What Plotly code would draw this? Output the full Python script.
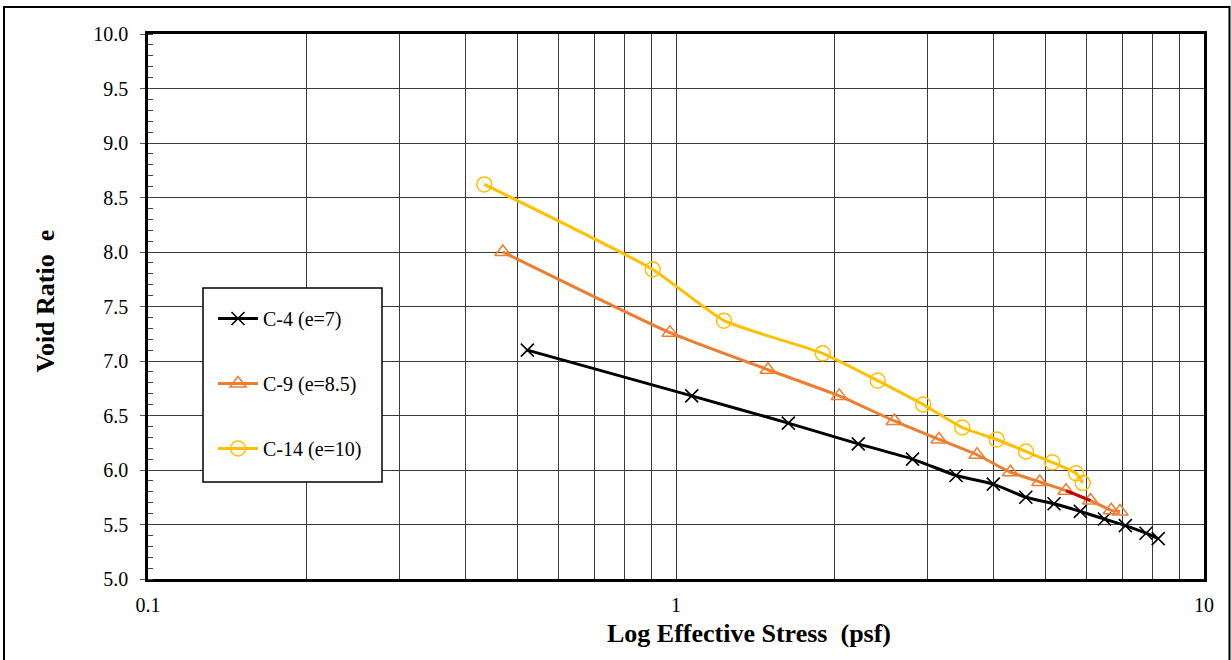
import plotly.graph_objects as go

# ---- data ----
c4_x = [0.523, 1.071, 1.632, 2.214, 2.805, 3.391, 3.990, 4.597, 5.199, 5.832, 6.478, 7.096, 7.767, 8.191]
c4_y = [7.10, 6.68, 6.43, 6.24, 6.10, 5.95, 5.87, 5.75, 5.69, 5.62, 5.55, 5.49, 5.42, 5.37]

c9_x = [0.470, 0.974, 1.494, 2.038, 2.591, 3.148, 3.716, 4.300, 4.887, 5.479, 6.096, 6.672, 6.933]
c9_y = [8.00, 7.26, 6.92, 6.68, 6.45, 6.28, 6.14, 5.98, 5.89, 5.81, 5.72, 5.63, 5.62]

c14_x = [0.4335, 0.9035, 1.233, 1.896, 2.410, 2.940, 3.485, 4.050, 4.601, 5.161, 5.723, 5.893]
c14_y = [8.62, 7.84, 7.37, 7.07, 6.82, 6.60, 6.39, 6.28, 6.17, 6.07, 5.97, 5.88]

red_x = [5.479, 6.096]
red_y = [5.81, 5.72]

x_tickvals = [0.1, 0.2, 0.3, 0.4, 0.5, 0.6, 0.7, 0.8, 0.9,
              1, 2, 3, 4, 5, 6, 7, 8, 9, 10]
x_ticktext = ["0.1", "", "", "", "", "", "", "", "",
              "1", "", "", "", "", "", "", "", "", "10"]
y_tickvals = [5.0, 5.5, 6.0, 6.5, 7.0, 7.5, 8.0, 8.5, 9.0, 9.5, 10.0]
y_ticktext = ["5.0", "5.5", "6.0", "6.5", "7.0", "7.5", "8.0", "8.5", "9.0", "9.5", "10.0"]

names = ["C-4 (e=7)", "C-9 (e=8.5)", "C-14 (e=10)"]

FONT = "Times New Roman, Liberation Serif, serif"
BLACK = "#000000"
ORANGE = "#ED7D31"
YELLOW = "#FFC000"
RED = "#C00000"

W, H = 1231, 660
L, R, T, B = 148, 27, 34, 81
PW, PH = W - L - R, H - T - B


def px(x):
    return (x - L) / PW


def py(y):
    return (H - B - y) / PH


fig = go.Figure()

fig.add_trace(go.Scatter(
    x=c4_x, y=c4_y, name=names[0], mode="lines+markers", legendgroup="a",
    line=dict(color=BLACK, width=3, shape="spline", smoothing=0.5),
    marker=dict(symbol="x-thin", size=13, line=dict(color=BLACK, width=1.6)),
))
fig.add_trace(go.Scatter(
    x=c9_x, y=c9_y, name=names[1], mode="lines+markers", legendgroup="b",
    line=dict(color=ORANGE, width=3, shape="spline", smoothing=0.5),
    marker=dict(symbol="triangle-up-open", size=14, color=ORANGE, line=dict(color=ORANGE, width=1.5)),
))
fig.add_trace(go.Scatter(
    x=red_x, y=red_y, mode="lines", showlegend=False, hoverinfo="skip",
    line=dict(color=RED, width=3),
))
fig.add_trace(go.Scatter(
    x=c14_x, y=c14_y, name=names[2], mode="lines+markers", legendgroup="c",
    line=dict(color=YELLOW, width=3, shape="spline", smoothing=0.5),
    marker=dict(symbol="circle-open", size=15, color=YELLOW, line=dict(color=YELLOW, width=1.5)),
))

fig.update_layout(
    width=W, height=H,
    margin=dict(l=L, r=R, t=T, b=B),
    paper_bgcolor="white", plot_bgcolor="white",
    font=dict(family=FONT, size=20, color="black"),
    showlegend=True,
    legend=dict(
        x=px(213), y=py(299), xanchor="left", yanchor="top",
        bgcolor="rgba(0,0,0,0)", borderwidth=0,
        font=dict(family=FONT, size=20, color="black"),
        tracegroupgap=36, itemwidth=40,
    ),
    xaxis=dict(
        type="log", range=[-1, 1],
        tickvals=x_tickvals, ticktext=x_ticktext,
        showgrid=True, gridcolor="#3a3a3a", gridwidth=1,
        ticks="", ticklabelstandoff=6,
        showline=True, linecolor="black", linewidth=2.5, mirror=True,
        zeroline=False,
        tickfont=dict(family=FONT, size=20),
    ),
    yaxis=dict(
        range=[5, 10],
        tickvals=y_tickvals, ticktext=y_ticktext,
        showgrid=True, gridcolor="#3a3a3a", gridwidth=1,
        ticks="outside", ticklen=5, tickcolor="#555", tickwidth=1,
        ticklabelstandoff=8,
        minor=dict(dtick=0.1, ticks="inside", ticklen=5, tickcolor="#444", tickwidth=1, showgrid=False),
        showline=True, linecolor="black", linewidth=2.5, mirror=True,
        zeroline=False,
        tickfont=dict(family=FONT, size=20),
    ),
    annotations=[
        dict(text="<b>Log Effective Stress  (psf)</b>", xref="paper", yref="paper",
             x=px(749), y=py(633), xanchor="center", yanchor="middle", showarrow=False,
             font=dict(family=FONT, size=26, color="black")),
        dict(text="<b>Void Ratio  e</b>", xref="paper", yref="paper",
             x=px(45), y=py(301.5), xanchor="center", yanchor="middle", textangle=-90,
             showarrow=False, font=dict(family=FONT, size=26, color="black")),
    ],
    shapes=[
        # outer chart frame
        dict(type="rect", xref="paper", yref="paper",
             x0=px(4), x1=px(1229.5), y0=py(665), y1=py(7),
             line=dict(color="black", width=2), fillcolor="rgba(0,0,0,0)", layer="below"),
        # legend frame
        dict(type="rect", xref="paper", yref="paper",
             x0=px(203), x1=px(382), y0=py(482), y1=py(288),
             line=dict(color="black", width=1.5), fillcolor="white", layer="above"),
    ],
)

fig.write_html(
    "out.html",
    config={"displayModeBar": False},
    post_script="document.body.style.margin='0';document.body.style.overflow='hidden';",
)
